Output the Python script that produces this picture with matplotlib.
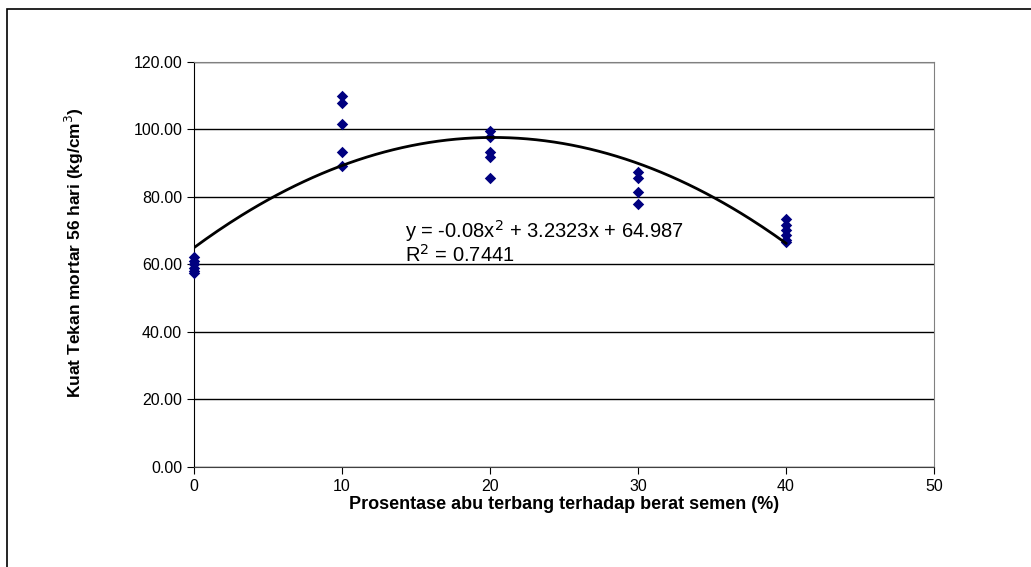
import numpy as np
import matplotlib.pyplot as plt
from matplotlib.patches import Rectangle

plt.rcParams['font.family'] = ['Liberation Sans', 'DejaVu Sans']

# abu terbang (%) and kuat tekan (kg/cm2)
x_0 = [0] * 6
y_0 = [62.2, 61.0, 60.0, 59.0, 58.2, 57.6]
x_10 = [10] * 5
y_10 = [109.9, 107.9, 101.6, 93.3, 89.2]
x_20 = [20] * 5
y_20 = [99.6, 97.8, 93.3, 91.9, 85.6]
x_30 = [30] * 4
y_30 = [87.4, 85.6, 81.5, 77.9]
x_40 = [40] * 6
y_40 = [73.5, 71.8, 70.2, 68.7, 67.4, 66.6]

xs = x_0 + x_10 + x_20 + x_30 + x_40
ys = y_0 + y_10 + y_20 + y_30 + y_40

# trendline coefficients as printed on the chart
coef = [-0.08, 3.2323, 64.987]
r2 = 0.7441

fig = plt.figure(figsize=(10.31, 5.67), dpi=100)
ax = fig.add_axes([0.1882, 0.1764, 0.9059 - 0.1882, 0.8907 - 0.1764])

# outer chart frame (only left and top edges inside the image)
fig.add_artist(Rectangle((0.0068, -0.1), 1.2, 1.0841, transform=fig.transFigure,
                         fill=False, edgecolor='black', linewidth=1.2))

ax.scatter(xs, ys, marker='D', s=34, color='#000080', zorder=3, linewidths=0,
           clip_on=False)

xf = np.linspace(0, 40, 200)
ax.plot(xf, np.polyval(coef, xf), color='black', linewidth=2, zorder=4)

ax.set_xlim(0, 50)
ax.set_ylim(0, 120)
ax.set_xticks(range(0, 51, 10))
ax.set_yticks(range(0, 121, 20))
ax.set_yticklabels([f'{v:.2f}' for v in range(0, 121, 20)])
ax.tick_params(labelsize=11.5, length=5, direction='out', color='black')
ax.yaxis.grid(True, color='black', linewidth=1)
ax.set_axisbelow(True)

for s in ['top', 'right']:
    ax.spines[s].set_color('#808080')
ax.spines['left'].set_color('black')
ax.spines['bottom'].set_color('#404040')

ax.set_xlabel('Prosentase abu terbang terhadap berat semen (%)', fontsize=13,
              fontweight='bold', labelpad=1.5)
ax.set_ylabel('Kuat Tekan mortar 56 hari (kg/cm$^3$)', fontsize=12.5,
              fontweight='bold')
ax.yaxis.set_label_coords(-0.146, 0.53)

ax.text(14.25, 73.6, f'y = {coef[0]}x$^2$ + {coef[1]}x + {coef[2]}\nR$^2$ = {r2}',
        fontsize=14.5, va='top', ha='left', linespacing=0.95, zorder=2)

fig.savefig('out.png', dpi=100)
